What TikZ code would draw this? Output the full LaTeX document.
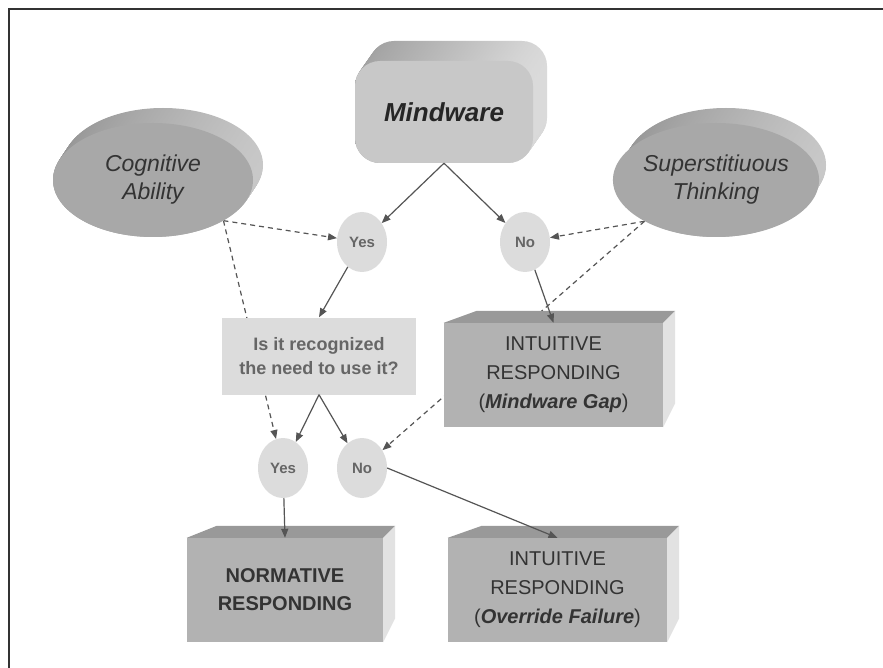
\documentclass[tikz,border=0pt]{standalone}
\usepackage{fontspec}
\setmainfont{Liberation Sans}
\usetikzlibrary{shapes.geometric,arrows.meta,calc}
\pgfdeclarelayer{background}
\pgfsetlayers{background,main}

\definecolor{ink}{HTML}{333333}
\definecolor{softink}{HTML}{666666}
\definecolor{wire}{HTML}{555555}
\definecolor{ellfront}{HTML}{A8A8A8}
\definecolor{ellside}{HTML}{959595}
\definecolor{ellsidelight}{HTML}{C8C8C8}
\definecolor{mindfront}{HTML}{C8C8C8}
\definecolor{mindside}{HTML}{A0A0A0}
\definecolor{mindsidelight}{HTML}{DADADA}
\definecolor{bubble}{HTML}{DCDCDC}
\definecolor{boxfront}{HTML}{B2B2B2}
\definecolor{boxtop}{HTML}{999999}
\definecolor{boxright}{HTML}{E2E2E2}

\tikzset{
  ell/.style={ellipse, minimum width=200pt, minimum height=114pt, inner sep=0pt,
    fill=ellfront, text=ink, align=center,
    font=\fontsize{23}{28}\selectfont\itshape},
  mind/.style={rectangle, rounded corners=25pt, minimum width=178pt, minimum height=102pt,
    inner sep=0pt, fill=mindfront, text=black!85,
    font=\fontsize{26}{30}\selectfont\bfseries\itshape},
  choice/.style={ellipse, minimum width=50pt, minimum height=60pt, inner sep=0pt,
    fill=bubble, text=softink, font=\fontsize{15}{18}\selectfont\bfseries},
  question/.style={rectangle, minimum width=194pt, minimum height=77pt, inner sep=0pt,
    fill=bubble, text=softink, align=center,
    font=\fontsize{18}{24}\selectfont\bfseries},
  outcome/.style={rectangle, minimum height=104pt, inner sep=0pt, fill=boxfront,
    text=ink, align=center, font=\fontsize{20}{29}\selectfont},
  arr/.style={draw=wire, line width=1.2pt, -{Triangle[length=9pt,width=7pt]}},
  dsh/.style={draw=wire, line width=1.2pt, dash pattern=on 5pt off 4pt,
    -{Triangle[length=9pt,width=7pt]}},
}

% extruded ellipse: sweep from the back offset to the front face
\newcommand{\sweepellipse}[2]{%
  \foreach \t in {0,1,...,24}{%
    \pgfmathsetmacro{\f}{1-\t/24}%
    \shade[left color=ellside, right color=ellsidelight]
      ($(#1,#2)+(10*\f,-15*\f)$) ellipse [x radius=100pt, y radius=57pt];
  }}

% extruded rounded box
\newcommand{\sweepbox}[4]{%
  \foreach \t in {0,1,...,24}{%
    \pgfmathsetmacro{\f}{1-\t/24}%
    \shade[left color=mindside, right color=mindsidelight, rounded corners=25pt]
      ($(#1,#2)+(14*\f,-20*\f)$) rectangle ($(#3,#4)+(14*\f,-20*\f)$);
  }}

% slanted top and right faces behind a front face
\newcommand{\slab}[3]{%
  \fill[boxtop] (#1.north west) -- ++(#2,-12) -- ($(#1.north east)+(12,-12)$)
    -- (#1.north east) -- cycle;
  \fill[boxright] (#1.north east) -- ++(12,-12) -- ($(#1.south east)+(12,-#3)$)
    -- (#1.south east) -- cycle;
}

\begin{document}
\begin{tikzpicture}[x=1pt, y=-1pt]
  \useasboundingbox (0,0) rectangle (883,668);
  \begin{pgfonlayer}{background}
    \fill[white] (0,0) rectangle (883,668);
  \end{pgfonlayer}

  % frame
  \draw[ink, line width=2pt] (9,668) -- (9,9) -- (883,9);

  % extrusions
  \sweepellipse{153}{180}
  \sweepellipse{716}{180}
  \sweepbox{355}{61}{533}{163}

  % sources
  \node[mind] (mind) at (444,112) {\raisebox{-4pt}{Mindware}};
  \node[ell] (cog) at (153,180) {Cognitive\\Ability};
  \node[ell] (sup) at (716,180) {Superstitiuous\\Thinking};

  % decisions
  \node[choice] (yes1) at (362,242) {Yes};
  \node[choice] (no1) at (525,242) {No};
  \node[question] (q) at (319,356) {Is it recognized\\the need to use it?};
  \node[choice] (yes2) at (283,468) {Yes};
  \node[choice] (no2) at (362,468) {No};

  % outcomes
  \node[outcome, minimum width=219pt] (gap) at (553.5,375)
    {INTUITIVE\\RESPONDING\\(\textbf{\textit{Mindware Gap}})};
  \node[outcome, minimum width=196pt, font=\fontsize{20}{28}\selectfont\bfseries] (norm) at (285,590)
    {NORMATIVE\\RESPONDING};
  \node[outcome, minimum width=219pt] (over) at (557.5,590)
    {INTUITIVE\\RESPONDING\\(\textbf{\textit{Override Failure}})};
  \slab{gap}{33}{24}
  \slab{norm}{30}{24}
  \slab{over}{34}{24}

  % influences, passing behind the boxes
  \begin{pgfonlayer}{background}
    \draw[dsh] (cog.-30) -- (yes1);
    \draw[dsh] (cog.-30) -- (yes2);
    \draw[dsh] (sup.-150) -- (no1);
    \draw[dsh] (sup.-150) -- (no2);
  \end{pgfonlayer}

  % solid flow
  \draw[arr] (mind.south) -- (yes1);
  \draw[arr] (mind.south) -- (no1);
  \draw[arr] (yes1) -- (q.north);
  \draw[arr] (no1) -- (gap.north);
  \draw[arr] (q.south) -- (yes2);
  \draw[arr] (q.south) -- (no2);
  \draw[arr] (yes2) -- (norm.north);
  \draw[arr] (no2.east) -- (over.north);
\end{tikzpicture}
\end{document}
